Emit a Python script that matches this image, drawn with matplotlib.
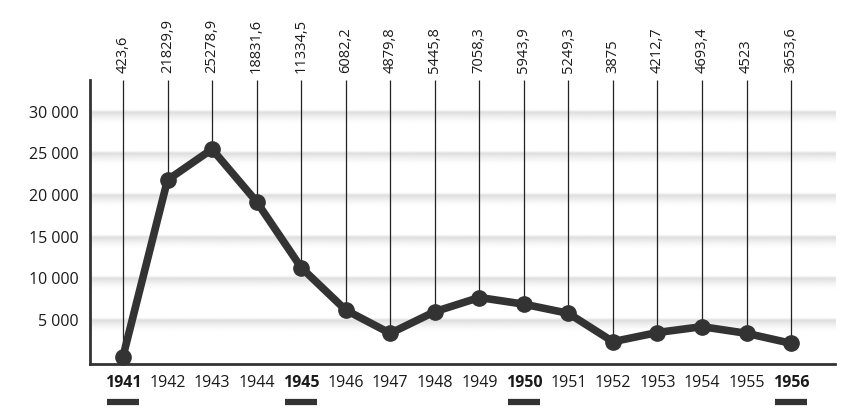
import numpy as np
import matplotlib.pyplot as plt

plt.rcParams['font.family'] = ['Open Sans', 'DejaVu Sans']

# данные
years = list(range(1941, 1957))
values = [600, 21800, 25500, 19200, 11300, 6200, 3400, 6000,
          7700, 6900, 5800, 2400, 3500, 4200, 3400, 2200]
top_labels = ['423,6', '21829,9', '25278,9', '18831,6', '11334,5', '6082,2',
              '4879,8', '5445,8', '7058,3', '5943,9', '5249,3', '3875',
              '4212,7', '4693,4', '4523', '3653,6']
y_ticks = [5000, 10000, 15000, 20000, 25000, 30000]
y_tick_labels = ['5 000', '10 000', '15 000', '20 000', '25 000', '30 000']
bold_years = [1941, 1945, 1950, 1956]

dark = '#333333'
txt = '#1a1a1a'

fig = plt.figure(figsize=(8.61, 4.17), dpi=100)
ax = fig.add_axes([90 / 861, 53 / 417, (837 - 90) / 861, (364 - 80) / 417])

x0, x1 = 1940.26, 1957.03
y0, y1 = -280, 33800
px = (y1 - y0) / 284.0  # единиц данных на пиксель

# серые полосы с градиентом
n = 40
grad = np.zeros((n, 1, 4))
top_px, bot_px = 3, 12
rows = np.linspace(-top_px, bot_px, n)
alpha = np.where(rows < 0, 1 + rows / top_px, 1 - rows / bot_px)
alpha = np.clip(alpha, 0, 1) ** 1.5
grad[:, 0, 0:3] = 0.80
grad[:, 0, 3] = alpha * 0.65
for v in y_ticks:
    ax.imshow(grad, extent=[x0, 1956.99, v - bot_px * px, v + top_px * px],
              aspect='auto', origin='upper', zorder=1, interpolation='bilinear')

# вертикальные линии до подписей
ax.vlines(years, values, y1, color='#222222', linewidth=0.9, zorder=2, clip_on=False)

ax.plot(years, values, color=dark, linewidth=5.5, marker='o', markersize=11,
        solid_joinstyle='round', zorder=3, clip_on=False)

for yr, lab in zip(years, top_labels):
    ax.annotate(lab, (yr, 1), xycoords=('data', 'axes fraction'),
                xytext=(0, 5), textcoords='offset points', rotation=90,
                ha='center', va='bottom', fontsize=10.5, color=txt)

ax.set_xlim(x0, x1)
ax.set_ylim(y0, y1)

ax.set_yticks(y_ticks)
ax.set_yticklabels(y_tick_labels, fontsize=11.5, color=txt)
ax.set_xticks(years)
ax.set_xticklabels([str(y) for y in years], fontsize=11.5, color=txt)
for lbl, yr in zip(ax.get_xticklabels(), years):
    if yr in bold_years:
        lbl.set_fontweight('bold')
ax.tick_params(axis='both', length=0)
ax.tick_params(axis='y', pad=8)
ax.tick_params(axis='x', pad=8)

# подчёркивания под выделенными годами
for yr in bold_years:
    ax.plot([yr - 0.36, yr + 0.36], [-0.134, -0.134], transform=ax.get_xaxis_transform(),
            color=dark, linewidth=4.5, solid_capstyle='butt', clip_on=False)

for s in ['top', 'right']:
    ax.spines[s].set_visible(False)
for s in ['left', 'bottom']:
    ax.spines[s].set_color(dark)
    ax.spines[s].set_linewidth(2)
ax.spines['bottom'].set_bounds(x0, 1956.99)
ax.patch.set_alpha(0)

plt.savefig('out.png', dpi=100)
